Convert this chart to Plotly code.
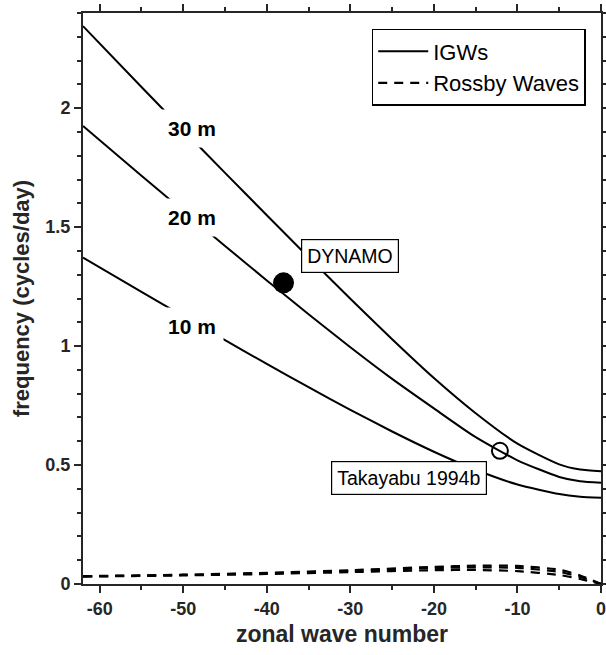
import plotly.graph_objects as go

# ---- data ----
wavenumber = [-62, -55, -50, -45, -40, -35, -30, -25, -20, -15, -10, -5, -2.5, 0]
igw_30m = [2.345, 2.089, 1.908, 1.728, 1.55, 1.373, 1.199, 1.029, 0.866, 0.718, 0.59, 0.503, 0.481, 0.474]
igw_20m = [1.925, 1.716, 1.568, 1.421, 1.276, 1.134, 0.995, 0.862, 0.738, 0.617, 0.52, 0.45, 0.432, 0.426]
igw_10m = [1.372, 1.228, 1.126, 1.025, 0.925, 0.827, 0.732, 0.641, 0.556, 0.48, 0.418, 0.378, 0.367, 0.363]

ross_x = [-62, -50, -40, -30, -20, -15, -10, -5, -2.5, 0]
ross_30m = [0.033, 0.039, 0.047, 0.058, 0.072, 0.077, 0.076, 0.06, 0.036, 0]
ross_20m = [0.032, 0.038, 0.045, 0.055, 0.067, 0.07, 0.068, 0.051, 0.03, 0]
ross_10m = [0.031, 0.036, 0.042, 0.05, 0.058, 0.059, 0.054, 0.038, 0.021, 0]

depth_labels = ["30 m", "20 m", "10 m"]
depth_label_x = [-49.0, -49.0, -49.0]
depth_label_y = [1.914, 1.542, 1.081]

dynamo_point = (-38.0, 1.266)
takayabu_point = (-12.1, 0.56)
dynamo_label = ("DYNAMO", -30.0, 1.378)
takayabu_label = ("Takayabu 1994b", -23.0, 0.4475)

x_tickvals = [-60, -50, -40, -30, -20, -10, 0]
x_ticktext = ["-60", "-50", "-40", "-30", "-20", "-10", "0"]
y_tickvals = [0, 0.5, 1, 1.5, 2]
y_ticktext = ["0", "0.5", "1", "1.5", "2"]

FONT = "Liberation Sans, Arial, Helvetica, sans-serif"
AXC = "#262626"

fig = go.Figure()

for i, ys in enumerate([igw_30m, igw_20m, igw_10m]):
    fig.add_trace(go.Scatter(
        x=wavenumber, y=ys, mode="lines",
        line=dict(color="black", width=2, shape="spline", smoothing=0.6),
        name="IGWs", legendgroup="igw", showlegend=(i == 0), hoverinfo="skip"))

for i, ys in enumerate([ross_30m, ross_20m, ross_10m]):
    fig.add_trace(go.Scatter(
        x=ross_x, y=ys, mode="lines",
        line=dict(color="black", width=2.2, dash="9px,7px", shape="spline", smoothing=0.6),
        name="Rossby Waves", legendgroup="ross", showlegend=(i == 0), hoverinfo="skip"))

fig.add_trace(go.Scatter(
    x=[dynamo_point[0]], y=[dynamo_point[1]], mode="markers",
    marker=dict(size=21, color="black"), showlegend=False, hoverinfo="skip"))
fig.add_trace(go.Scatter(
    x=[takayabu_point[0]], y=[takayabu_point[1]], mode="markers",
    marker=dict(size=16, color="rgba(0,0,0,0)", line=dict(color="black", width=2)),
    showlegend=False, hoverinfo="skip"))

for txt, xx, yy in zip(depth_labels, depth_label_x, depth_label_y):
    fig.add_annotation(x=xx, y=yy, text=txt, showarrow=False,
                       font=dict(family=FONT, size=21, color="black", weight="bold"),
                       bgcolor="white", borderpad=7)

for txt, xx, yy in [dynamo_label, takayabu_label]:
    fig.add_annotation(x=xx, y=yy, text=txt, showarrow=False,
                       font=dict(family=FONT, size=19.5, color="black"),
                       bgcolor="white", bordercolor="black", borderwidth=1.2, borderpad=5)

axis_common = dict(
    showline=True, linecolor=AXC, linewidth=2, mirror="ticks",
    ticks="outside", ticklen=7, tickwidth=1.5, tickcolor=AXC,
    showgrid=False, zeroline=False, ticklabeloverflow="allow",
    tickfont=dict(family=FONT, size=18, color=AXC, weight="bold"),
)

fig.update_xaxes(range=[-62, 0], tickvals=x_tickvals, ticktext=x_ticktext,
                 minor=dict(dtick=5, tick0=0, ticks="outside", ticklen=4, tickcolor=AXC, tickwidth=1.5),
                 title=dict(text="zonal wave number", font=dict(family=FONT, size=23, color=AXC, weight="bold"),
                            standoff=8),
                 **axis_common)
fig.update_yaxes(range=[0, 2.4], tickvals=y_tickvals, ticktext=y_ticktext,
                 minor=dict(dtick=0.1, tick0=0, ticks="outside", ticklen=4, tickcolor=AXC, tickwidth=1.5),
                 title=dict(text="frequency (cycles/day)", font=dict(family=FONT, size=22, color=AXC, weight="bold"),
                            standoff=10),
                 **axis_common)

fig.update_layout(
    width=606, height=655,
    margin=dict(l=83, r=5, t=13, b=71, autoexpand=False),
    plot_bgcolor="white", paper_bgcolor="white",
    legend=dict(x=0.9705, y=0.972, xanchor="right", yanchor="top",
                bgcolor="white", bordercolor="black", borderwidth=1.5,
                font=dict(family=FONT, size=22, color="black"),
                tracegroupgap=0, itemwidth=50),
    font=dict(family=FONT),
)

fig.write_html("out.html")
